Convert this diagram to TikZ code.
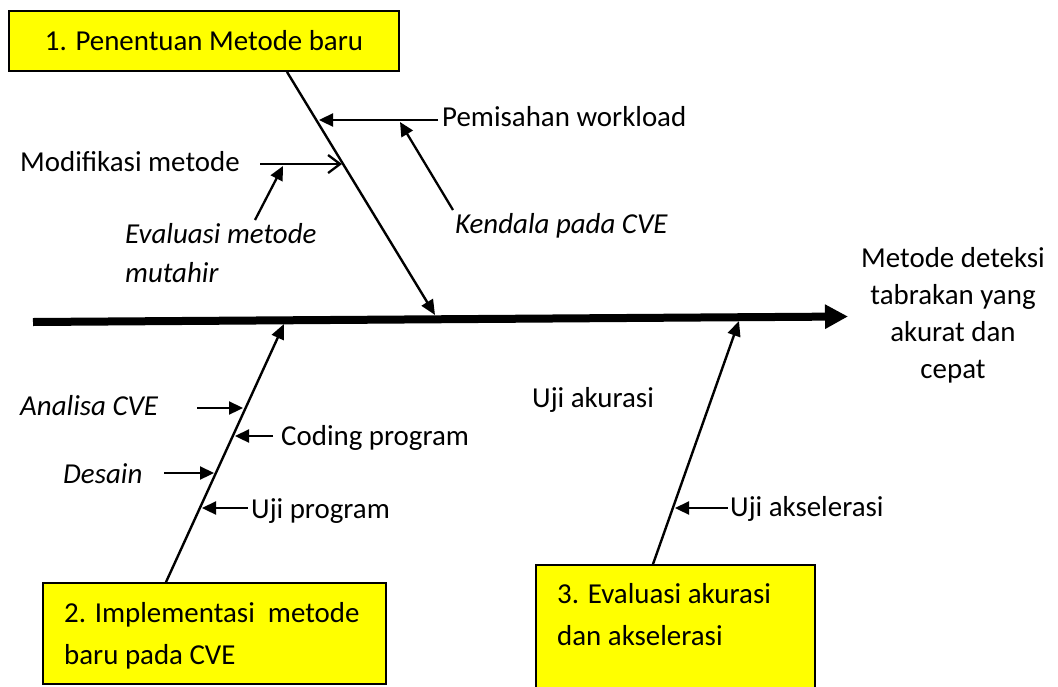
\documentclass[tikz,border=0pt]{standalone}
\usepackage{fontspec}
\setmainfont{Carlito}
\usetikzlibrary{arrows.meta}
\definecolor{boxyellow}{RGB}{255,255,0}
\begin{document}
\begin{tikzpicture}[x=1pt,y=-1pt,
  txt/.style={font=\fontsize{28.9}{37}\selectfont, inner sep=0pt, anchor=base west},
  itxt/.style={inner sep=0pt, anchor=base west, font=\fontsize{28.9}{39}\selectfont\itshape},
  boxtxt/.style={inner sep=0pt, anchor=base west, align=left, font=\fontsize{28.9}{41.5}\selectfont},
  causebox/.style={draw=black, line width=1.8pt, fill=boxyellow, inner sep=0pt},
  bone/.style={line width=2.4pt, -{Triangle[length=15pt,width=13pt]}},
  sub/.style={line width=2.3pt, -{Triangle[length=14pt,width=13pt]}},
  opensub/.style={line width=2.3pt, -{Straight Barb[length=12pt,width=18pt]}},
]
\useasboundingbox (0,0) rectangle (1058,686);

% cause boxes
\node[causebox, minimum width=390pt, minimum height=60pt, font=\fontsize{28.9}{37}\selectfont] (box1) at (204,41) {1. Penentuan Metode baru};
\node[causebox, minimum width=343pt, minimum height=101pt] (box2) at (214.5,633.5) {};
\node[causebox, minimum width=279pt, minimum height=127pt] (box3) at (675.5,628.5) {};
\node[boxtxt] (box2t) at (64,664) {2. Implementasi\ \ metode\\baru pada CVE};
\node[boxtxt] (box3t) at (557,645) {3. Evaluasi akurasi\\dan akselerasi};

% spine
\coordinate (tail) at (33,322);
\coordinate (head) at (848,316.5);
\draw[line width=8pt, -{Triangle[length=23pt,width=23pt]}] (tail) -- (head);
\node[inner sep=0pt, anchor=base, align=center, font=\fontsize{28.9}{37}\selectfont] (goal) at (953,378) {Metode deteksi\\tabrakan yang\\akurat dan\\cepat};

% bones
\coordinate (b1tip) at (435,315);
\coordinate (b2tip) at (284,324);
\coordinate (b3tip) at (739,321);
\draw[bone] ([xshift=83pt]box1.south) -- (b1tip);
\draw[bone] ([xshift=-48.5pt]box2.north) -- (b2tip);
\draw[bone] ([xshift=-22.5pt]box3.north) -- (b3tip);

% labels
\node[txt] (pem) at (442,126) {Pemisahan workload};
\node[txt] (mod) at (20,171) {Modifikasi metode};
\node[itxt] (ken) at (455,233) {Kendala pada CVE};
\node[itxt, align=left] (eva) at (125,282) {Evaluasi metode\\mutahir};
\node[itxt] (ana) at (20,415) {Analisa CVE};
\node[txt] (cod) at (281,445) {Coding program};
\node[itxt] (des) at (63,483) {Desain};
\node[txt] (ujp) at (251,518) {Uji program};
\node[txt] (uak) at (532,407) {Uji akurasi};
\node[txt] (uac) at (730,516) {Uji akselerasi};

% sub-cause arrows
\coordinate (pemS) at (438,120); \coordinate (pemT) at (319,120);
\coordinate (kenS) at (453,210); \coordinate (kenT) at (400,122);
\coordinate (modS) at (260,164); \coordinate (modT) at (342,164);
\coordinate (evaS) at (255,220); \coordinate (evaT) at (283,166);
\coordinate (anaS) at (197,408); \coordinate (anaT) at (243,408);
\coordinate (codS) at (273,436); \coordinate (codT) at (235,436);
\coordinate (desS) at (164,473); \coordinate (desT) at (214,473);
\coordinate (ujpS) at (248,508); \coordinate (ujpT) at (202,508);
\coordinate (uacS) at (728,508); \coordinate (uacT) at (675,508);
\draw[sub] (pemS) -- (pemT);
\draw[sub] (kenS) -- (kenT);
\draw[opensub] (modS) -- (modT);
\draw[sub] (evaS) -- (evaT);
\draw[sub] (anaS) -- (anaT);
\draw[sub] (codS) -- (codT);
\draw[sub] (desS) -- (desT);
\draw[sub] (ujpS) -- (ujpT);
\draw[sub] (uacS) -- (uacT);
\end{tikzpicture}
\end{document}
